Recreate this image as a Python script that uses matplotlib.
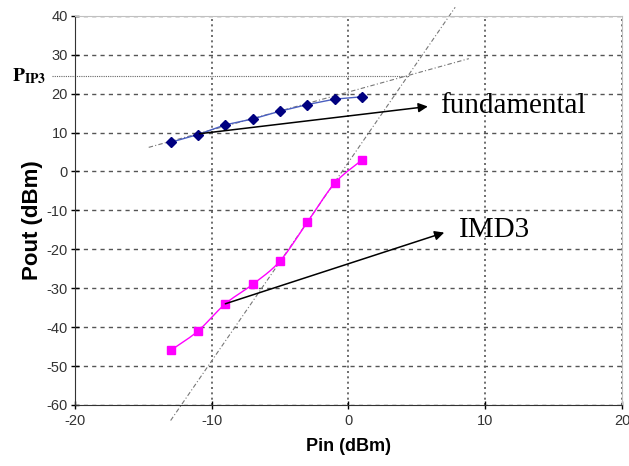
import numpy as np
import matplotlib
matplotlib.use("Agg")
import matplotlib.pyplot as plt

pin = [-13, -11, -9, -7, -5, -3, -1, 1]
fund = [7.5, 9.5, 12.0, 13.5, 15.5, 17.2, 18.6, 19.2]
imd3 = [-46, -41, -34, -29, -23, -13, -3, 3]

# hand-drawn extrapolation guides (end points)
fund_ext_x = [-14.6, 8.8]
fund_ext_y = [6.2, 29.0]
imd_ext_x = [-13.0, 7.8]
imd_ext_y = [-64.0, 42.2]
pip3 = 24.5
pip3_x = [-21.7, 4.4]

xticks = [-20, -10, 0, 10, 20]
yticks = [-60, -50, -40, -30, -20, -10, 0, 10, 20, 30, 40]


def smooth(x, y, n=20):
    # catmull-rom curve through the points, like Excel's smoothed line
    x = np.asarray(x, float)
    y = np.asarray(y, float)
    px = np.concatenate([[2 * x[0] - x[1]], x, [2 * x[-1] - x[-2]]])
    py = np.concatenate([[2 * y[0] - y[1]], y, [2 * y[-1] - y[-2]]])
    xs, ys = [], []
    t = np.linspace(0, 1, n)
    for i in range(1, len(px) - 2):
        for p, out in ((px, xs), (py, ys)):
            p0, p1, p2, p3 = p[i - 1], p[i], p[i + 1], p[i + 2]
            out.extend(0.5 * (2 * p1 + (-p0 + p2) * t
                              + (2 * p0 - 5 * p1 + 4 * p2 - p3) * t ** 2
                              + (-p0 + 3 * p1 - 3 * p2 + p3) * t ** 3))
    return xs, ys


plt.rcParams['axes.unicode_minus'] = False
plt.rcParams['mathtext.fontset'] = 'stix'

fig = plt.figure(figsize=(6.29, 4.66), dpi=100)
ax = fig.add_axes([0.119, 0.131, 0.87, 0.835])

ax.set_xlim(-20, 20)
ax.set_ylim(-60, 40)
ax.set_xticks(xticks)
ax.set_yticks(yticks)
ax.tick_params(direction='inout', length=6, width=1, labelsize=10.5,
               labelcolor='#333333')
ax.tick_params(axis='y', pad=2)
for lab in ax.get_xticklabels() + ax.get_yticklabels():
    lab.set_fontfamily('Liberation Sans')

ax.yaxis.grid(True, linestyle=(0, (3, 3)), color='#555555', lw=1)
ax.xaxis.grid(True, linestyle=(0, (1.2, 2)), color='#555555', lw=1.2)
ax.set_axisbelow(True)

ax.spines['left'].set_color('#333333')
ax.spines['bottom'].set_color('#333333')
ax.spines['right'].set_color('#c0c0c0')
ax.spines['top'].set_color('#c0c0c0')

# extrapolation guides
ax.plot(fund_ext_x, fund_ext_y, linestyle=(0, (4, 2, 1, 2)), color='#777777',
        lw=0.8, clip_on=False)
ax.plot(imd_ext_x, imd_ext_y, linestyle=(0, (4, 2, 1, 2)), color='#777777',
        lw=0.8, clip_on=False)
ax.plot(pip3_x, [pip3, pip3], linestyle=(0, (1, 1)), color='#666666',
        lw=0.8, clip_on=False)

# data
ax.plot(pin, fund, color='#4a5fc0', lw=1.0, marker='D', markersize=5,
        markerfacecolor='#000080', markeredgecolor='#000080')
sx, sy = smooth(pin, imd3)
ax.plot(sx, sy, color='#ff00ff', lw=1.0)
ax.plot(pin, imd3, linestyle='none', marker='s', markersize=6,
        markerfacecolor='#ff00ff', markeredgecolor='#ff00ff')

# annotations
arrow = dict(arrowstyle='-|>', color='black', lw=1.1, mutation_scale=14,
             shrinkA=0, shrinkB=0)
ax.annotate('', xy=(5.8, 16.7), xytext=(-10.9, 9.7), arrowprops=arrow)
ax.annotate('', xy=(7.0, -15.7), xytext=(-9.0, -34.0), arrowprops=arrow)
ax.text(6.7, 16.8, 'fundamental', family='Liberation Serif', fontsize=21,
        va='center', ha='left')
ax.text(8.1, -15.0, 'IMD3', family='Liberation Serif', fontsize=21,
        va='center', ha='left')

fig.text(12 / 629, 1 - 76 / 466, r'$\mathbf{P}_{\mathbf{IP3}}$', fontsize=14,
         va='center', ha='left')

ax.set_xlabel('Pin (dBm)', family='Liberation Sans', fontsize=13,
              fontweight='bold')
ax.xaxis.set_label_coords(0.5, -0.085)
ax.set_ylabel('Pout (dBm)', family='Liberation Sans', fontsize=16,
              fontweight='bold')
ax.yaxis.set_label_coords(-0.058, 0.476)

fig.savefig('out.png', dpi=100)
